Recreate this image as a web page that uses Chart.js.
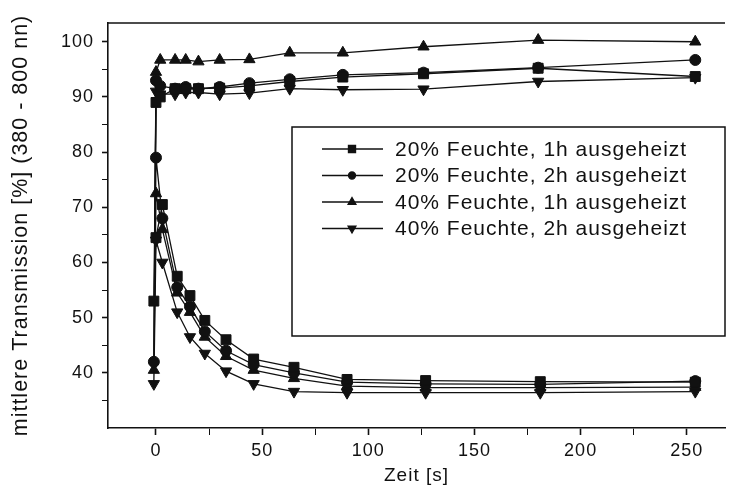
<!DOCTYPE html>
<html lang="de">
<head>
    <meta charset="UTF-8">
    <title>Transmission</title>
    <style>
        html, body { margin: 0; padding: 0; background: #fff; }
        canvas { display: block; }
    </style>
</head>
<body>
    <canvas id="chart" width="733" height="488"></canvas>
    <script src="https://cdn.jsdelivr.net/npm/chart.js@4.4.1/dist/chart.umd.min.js"></script>
<script>
    // time points (s) of the upper (dry) and lower (after humidity) branch
    var upperTimes = [0, 2, 9, 14, 20, 30, 44, 63, 88, 126, 180, 254];
    var lowerTimes = [-1, 0, 3, 10, 16, 23, 33, 46, 65, 90, 127, 181, 254];

    var seriesLabels = [
        '20% Feuchte, 1h ausgeheizt',
        '20% Feuchte, 2h ausgeheizt',
        '40% Feuchte, 1h ausgeheizt',
        '40% Feuchte, 2h ausgeheizt'
    ];

    // mean transmission [%]
    var rh20h1Upper = [89, 90, 91.5, 91.5, 91.5, 91.6, 92, 92.8, 93.6, 94.2, 95.2, 93.7];
    var rh20h2Upper = [93, 92, 91.5, 91.8, 91.5, 91.8, 92.5, 93.2, 94, 94.4, 95.3, 96.7];
    var rh40h1Upper = [94.5, 96.7, 96.7, 96.7, 96.4, 96.7, 96.8, 98, 98, 99.1, 100.3, 100];
    var rh40h2Upper = [91, 90.5, 90.5, 90.8, 90.8, 90.5, 90.7, 91.5, 91.3, 91.4, 92.8, 93.5];

    var rh20h1Lower = [53, 64.5, 70.5, 57.5, 54, 49.5, 46, 42.5, 41, 38.8, 38.6, 38.4, 38.3];
    var rh20h2Lower = [42, 79, 68, 55.5, 52, 47.5, 44, 41.5, 40, 38.3, 38, 37.9, 38.5];
    var rh40h1Lower = [40.5, 72.5, 66, 54.5, 51, 46.5, 43, 40.5, 39, 37.6, 37.3, 37.3, 37.4];
    var rh40h2Lower = [38, 64, 60, 51, 46.5, 43.5, 40.3, 38, 36.6, 36.4, 36.4, 36.4, 36.6];

    var xTickValues = [0, 25, 50, 75, 100, 125, 150, 175, 200, 225, 250];
    var yTickValues = [35, 40, 45, 50, 55, 60, 65, 70, 75, 80, 85, 90, 95, 100];

    var pointStyles = ['rect', 'circle', 'triangle', 'triangle'];
    var pointRotations = [0, 0, 0, 180];
    var pointRadii = [7, 5.5, 6.5, 6.5];

    function branchPoints(upper, lower) {
        var pts = [];
        for (var i = upperTimes.length - 1; i >= 0; i--) {
            pts.push({x: upperTimes[i], y: upper[i]});
        }
        for (var j = 0; j < lowerTimes.length; j++) {
            pts.push({x: lowerTimes[j], y: lower[j]});
        }
        return pts;
    }

    var uppers = [rh20h1Upper, rh20h2Upper, rh40h1Upper, rh40h2Upper];
    var lowers = [rh20h1Lower, rh20h2Lower, rh40h1Lower, rh40h2Lower];

    var datasets = seriesLabels.map(function(label, i) {
        return {
            label: label,
            data: branchPoints(uppers[i], lowers[i]),
            showLine: true,
            borderColor: '#111',
            backgroundColor: '#111',
            borderWidth: 1.3,
            pointStyle: pointStyles[i],
            rotation: pointRotations[i],
            pointRadius: pointRadii[i],
            pointBorderWidth: 1,
            tension: 0
        };
    });

    // spaced lettering like the scan
    var spacing = {
        id: 'spacing',
        beforeUpdate: function(chart) { chart.ctx.letterSpacing = '1px'; },
        beforeDraw: function(chart) { chart.ctx.letterSpacing = '1px'; }
    };

    // top frame line and boxed legend inside the plot
    var frame = {
        id: 'frame',
        afterDraw: function(chart) {
            var ctx = chart.ctx;
            var a = chart.chartArea;
            ctx.save();
            ctx.strokeStyle = '#111';
            ctx.lineWidth = 1.5;
            ctx.beginPath();
            ctx.moveTo(a.left, a.top);
            ctx.lineTo(a.right, a.top);
            ctx.stroke();

            // legend box
            var bx = 292, by = 127, bw = 433, bh = 209;
            ctx.fillStyle = '#fff';
            ctx.fillRect(bx, by, bw, bh);
            ctx.strokeRect(bx, by, bw, bh);

            ctx.font = '21px "Liberation Sans", Arial, sans-serif';
            ctx.letterSpacing = '1px';
            ctx.textBaseline = 'middle';
            ctx.fillStyle = '#111';
            chart.data.datasets.forEach(function(ds, i) {
                var y = 149 + i * 26.5;
                ctx.lineWidth = 1.3;
                ctx.beginPath();
                ctx.moveTo(322, y);
                ctx.lineTo(383, y);
                ctx.stroke();
                Chart.helpers.drawPoint(ctx, {
                    pointStyle: ds.pointStyle,
                    rotation: ds.rotation,
                    radius: ds.pointRadius - 2,
                    borderWidth: 1
                }, 352, y);
                ctx.fillStyle = '#111';
                ctx.fillText(ds.label, 395, y + 1);
            });
            ctx.restore();
        }
    };

    function tickWidthFor(step) {
        return function(c) {
            return c.tick && c.tick.value % step === 0 ? 1.6 : 1;
        };
    }

    Chart.defaults.font.family = '"Liberation Sans", Arial, sans-serif';
    Chart.defaults.color = '#111';

    new Chart(document.getElementById('chart').getContext('2d'), {
        type: 'scatter',
        data: { datasets: datasets },
        plugins: [spacing, frame],
        options: {
            responsive: false,
            animation: false,
            layout: { padding: { top: 23, right: 0, left: 0, bottom: 0 } },
            plugins: {
                legend: { display: false },
                tooltip: { enabled: false }
            },
            scales: {
                x: {
                    type: 'linear',
                    min: -22.6,
                    max: 268,
                    afterBuildTicks: function(scale) {
                        scale.ticks = xTickValues.map(function(v) { return {value: v}; });
                    },
                    afterFit: function(scale) { scale.height = 60; },
                    ticks: {
                        font: { size: 18 },
                        padding: 5,
                        maxRotation: 0,
                        callback: function(v) { return v % 50 === 0 ? v : ''; }
                    },
                    grid: {
                        drawOnChartArea: false,
                        tickLength: 7,
                        tickColor: '#111',
                        tickWidth: tickWidthFor(50)
                    },
                    border: { color: '#111', width: 1.6 },
                    title: {
                        display: true,
                        text: 'Zeit [s]',
                        font: { size: 19 },
                        padding: { top: 0, bottom: 1 }
                    }
                },
                y: {
                    type: 'linear',
                    min: 30,
                    max: 103.4,
                    afterBuildTicks: function(scale) {
                        scale.ticks = yTickValues.map(function(v) { return {value: v}; });
                    },
                    afterFit: function(scale) { scale.width = 108; },
                    ticks: {
                        font: { size: 18 },
                        padding: 8,
                        callback: function(v) { return v % 10 === 0 ? v : ''; }
                    },
                    grid: {
                        drawOnChartArea: false,
                        tickLength: 6,
                        tickColor: '#111',
                        tickWidth: tickWidthFor(10)
                    },
                    border: { color: '#111', width: 1.6 },
                    title: {
                        display: true,
                        text: 'mittlere Transmission [%] (380 - 800 nn)',
                        font: { size: 21.5 },
                        padding: { top: 8, bottom: 0 }
                    }
                }
            }
        }
    });
</script>
</body>
</html>
